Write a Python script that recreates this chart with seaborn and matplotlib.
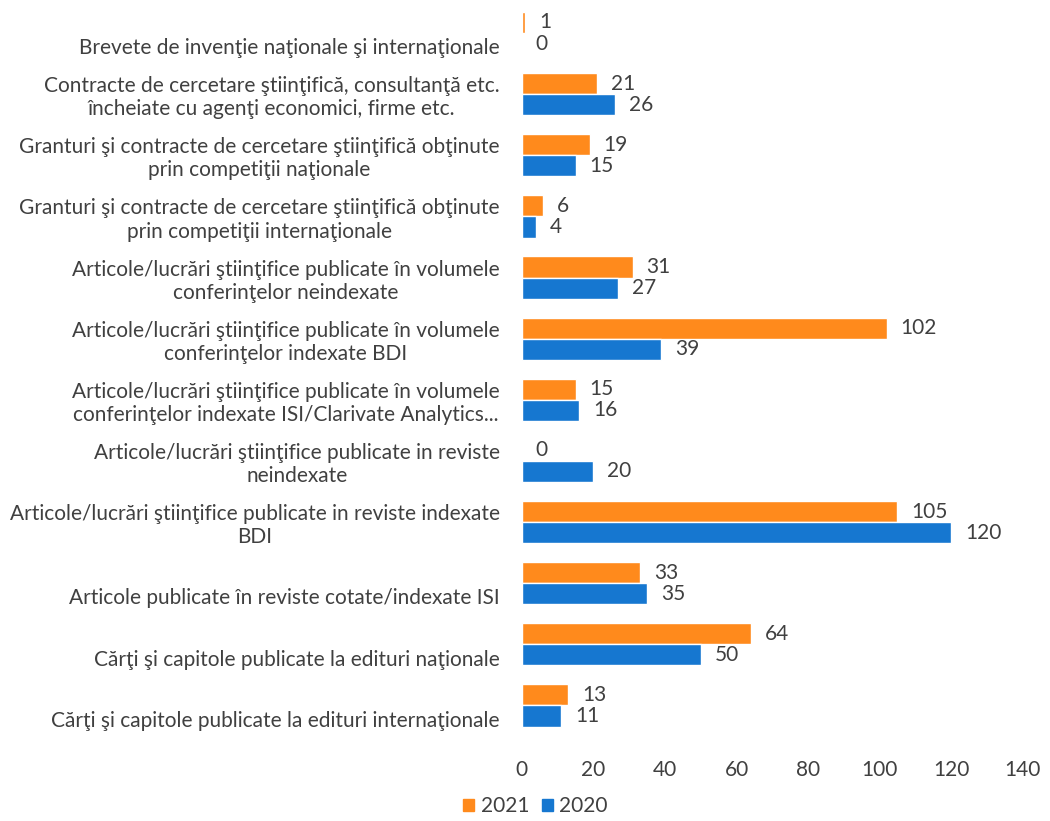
import matplotlib
matplotlib.use('Agg')
import matplotlib.pyplot as plt
import pandas as pd
import seaborn as sns

# ------------------------------------------------------------
# data
# ------------------------------------------------------------
categories = [
    "\nBrevete de invenţie naţionale şi internaţionale",
    "Contracte de cercetare ştiinţifică, consultanţă etc.\nîncheiate cu agenţi economici, firme etc.",
    "Granturi şi contracte de cercetare ştiinţifică obţinute\nprin competiţii naţionale",
    "Granturi şi contracte de cercetare ştiinţifică obţinute\nprin competiţii internaţionale",
    "Articole/lucrări ştiinţifice publicate în volumele\nconferinţelor neindexate",
    "Articole/lucrări ştiinţifice publicate în volumele\nconferinţelor indexate BDI",
    "Articole/lucrări ştiinţifice publicate în volumele\nconferinţelor indexate ISI/Clarivate Analytics...",
    "Articole/lucrări ştiinţifice publicate in reviste\nneindexate",
    "Articole/lucrări ştiinţifice publicate in reviste indexate\nBDI",
    "\nArticole publicate în reviste cotate/indexate ISI",
    "\nCărţi şi capitole publicate la edituri naţionale",
    "\nCărţi şi capitole publicate la edituri internaţionale",
]
values_2021 = [1, 21, 19, 6, 31, 102, 15, 0, 105, 33, 64, 13]
values_2020 = [0, 26, 15, 4, 27, 39, 16, 20, 120, 35, 50, 11]
years = ["2021", "2020"]
x_ticks = [0, 20, 40, 60, 80, 100, 120, 140]

df = pd.DataFrame({
    "categorie": categories * 2,
    "an": [years[0]] * len(categories) + [years[1]] * len(categories),
    "valoare": values_2021 + values_2020,
})

# ------------------------------------------------------------
# plot
# ------------------------------------------------------------
sns.set_style("white")
plt.rcParams['font.family'] = ['Lato', 'DejaVu Sans']
text_color = '#404040'
fs = 15

fig = plt.figure(figsize=(10.5, 8.21), dpi=100)
ax = fig.add_axes([0.497, 0.1035, 0.477, 0.8935])

palette = {"2021": "#FF8A1C", "2020": "#1677D0"}
sns.barplot(data=df, y="categorie", x="valoare", hue="an", hue_order=years,
            order=categories, palette=palette, orient="h", width=0.69,
            saturation=1, ax=ax, legend=False)

for cont in ax.containers:
    ax.bar_label(cont, padding=10, fontsize=fs, color=text_color)

ax.set_xlim(0, 140)
ax.set_xticks(x_ticks)
ax.set_ylim(len(categories) - 0.5, -0.5)
ax.set_xlabel("")
ax.set_ylabel("")
sns.despine(ax=ax, left=True, bottom=True)
ax.tick_params(axis='x', length=0, pad=17, labelsize=fs, labelcolor=text_color)
ax.tick_params(axis='y', length=0, pad=16, labelsize=fs, labelcolor=text_color)
for lbl in ax.get_yticklabels():
    lbl.set_multialignment('center')

# legend jos
handles = [plt.Rectangle((0, 0), 1, 1, color=palette[y]) for y in years]
fig.legend(handles, years, loc='center', bbox_to_anchor=(0.51, 0.018),
           ncol=2, frameon=False, fontsize=fs, handlelength=0.55, handleheight=0.55,
           handletextpad=0.3, columnspacing=0.6, labelcolor=text_color)

fig.savefig('out.png', dpi=100)
